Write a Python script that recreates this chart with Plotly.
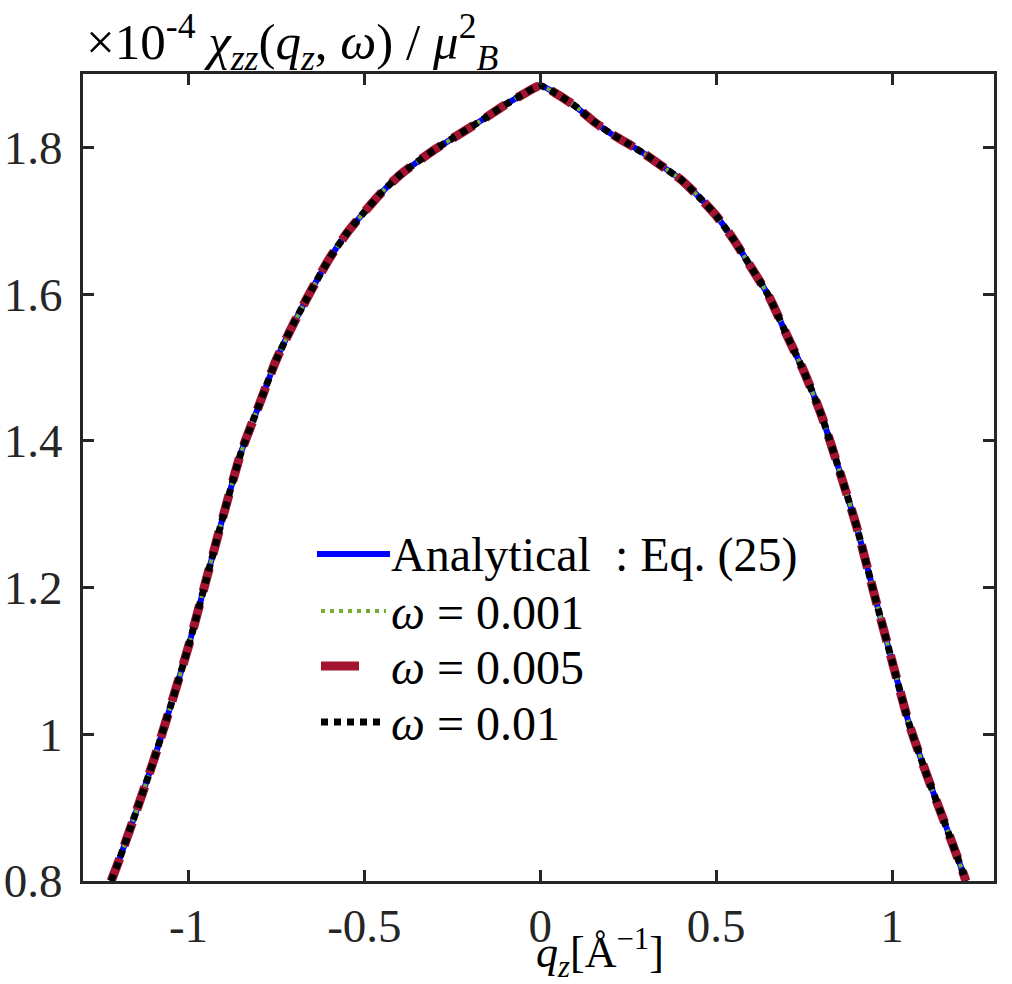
import plotly.graph_objects as go

# ---- data ----
q_left = [-1.22, -1.20, -1.15, -1.10, -1.05, -1.00, -0.95, -0.90, -0.85, -0.80,
          -0.75, -0.70, -0.65, -0.60, -0.55, -0.50, -0.45, -0.40, -0.35, -0.30,
          -0.25, -0.20, -0.15, -0.10, -0.05]
chi_left = [0.800, 0.825, 0.893, 0.963, 1.040, 1.120, 1.210, 1.300, 1.385, 1.448,
            1.511, 1.561, 1.606, 1.648, 1.683, 1.712, 1.739, 1.762, 1.780, 1.797,
            1.812, 1.827, 1.842, 1.858, 1.872]
q_peak = [0.0]
chi_peak = [1.884]
q_right = [0.05, 0.10, 0.15, 0.20, 0.25, 0.30, 0.35, 0.40, 0.45, 0.50,
           0.55, 0.60, 0.65, 0.70, 0.75, 0.80, 0.85, 0.90, 0.95, 1.00,
           1.05, 1.10, 1.15, 1.20, 1.21]
chi_right = [1.872, 1.856, 1.836, 1.819, 1.805, 1.790, 1.773, 1.756, 1.733, 1.707,
             1.674, 1.636, 1.597, 1.545, 1.494, 1.434, 1.360, 1.282, 1.190, 1.100,
             1.012, 0.943, 0.879, 0.814, 0.800]

q_z = q_left + q_peak + q_right
chi = chi_left + chi_peak + chi_right

series_names = ["Analytical : Eq. (25)", "ω = 0.001", "ω = 0.005", "ω = 0.01"]
series_labels = ["Analytical&nbsp;&nbsp;:&nbsp;Eq.&nbsp;(25)",
                 "<i>ω</i>&nbsp;=&nbsp;0.001", "<i>ω</i>&nbsp;=&nbsp;0.005",
                 "<i>ω</i>&nbsp;=&nbsp;0.01"]
series_colors = ["#0000ff", "#77ac30", "#a2142f", "#000000"]
series_widths = [6, 4, 9, 7]
series_dash = ["solid", "4px,5px", "24px,14px", "7px,6px"]

x_ticks = [-1, -0.5, 0, 0.5, 1]
x_ticklabels = ["-1", "-0.5", "0", "0.5", "1"]
y_ticks = [0.8, 1.0, 1.2, 1.4, 1.6, 1.8]
y_ticklabels = ["0.8", "1", "1.2", "1.4", "1.6", "1.8"]

FONT = "Liberation Serif"
AX = "#262626"
FS = 47

fig = go.Figure()
for name, c, w, d in zip(series_names, series_colors, series_widths, series_dash):
    fig.add_trace(go.Scatter(x=q_z, y=chi, mode="lines", name=name,
                             line=dict(color=c, width=w, dash=d, shape="spline", smoothing=0.6),
                             showlegend=False))

W, H = 1012, 984
L, R, T, B = 83, 18, 74, 103
pw, ph = W - L - R, H - T - B


def px(xp):
    return (xp - L) / pw


def py(yp):
    return (H - B - yp) / ph


# manual legend (glyph lengths like the reference)
rows_y = [554, 611, 666, 722]
glyph_x = [(317, 390), (321, 386), (321, 359), (321, 386)]
glyph_dash = ["solid", "4px,5px", "solid", "7px,6px"]
shapes = []
annotations = []
for i in range(4):
    x0, x1 = glyph_x[i]
    shapes.append(dict(type="line", xref="paper", yref="paper",
                       x0=px(x0), x1=px(x1), y0=py(rows_y[i]), y1=py(rows_y[i]),
                       line=dict(color=series_colors[i], width=series_widths[i],
                                 dash=glyph_dash[i])))
    annotations.append(dict(xref="paper", yref="paper", x=px(389), y=py(rows_y[i] + 1),
                            xanchor="left", yanchor="middle", showarrow=False,
                            text=series_labels[i],
                            font=dict(family=FONT, size=48, color="#000000")))

# y-axis title at top-left
annotations.append(dict(xref="paper", yref="paper", x=px(84), y=py(42),
                        xanchor="left", yanchor="middle", showarrow=False,
                        text="×10<sup>-4</sup>&nbsp;<i>χ<sub>zz</sub></i>(<i>q<sub>z</sub></i>,&nbsp;<i>ω</i>)&nbsp;/&nbsp;<i>μ</i><sup>2</sup><sub><i>B</i></sub>",
                        font=dict(family=FONT, size=51, color="#000000")))
# x-axis title
annotations.append(dict(xref="paper", yref="paper", x=px(600), y=py(953),
                        xanchor="center", yanchor="middle", showarrow=False,
                        text="<i>q<sub>z</sub></i>[Å<sup>−1</sup>]",
                        font=dict(family=FONT, size=44, color="#000000")))

axis_common = dict(showline=True, linewidth=3, linecolor=AX, mirror="ticks",
                   ticks="inside", ticklen=11, tickwidth=3, tickcolor=AX,
                   showgrid=False, zeroline=False, automargin=False,
                   tickfont=dict(family=FONT, size=FS, color="#262626"))

fig.update_layout(
    width=W, height=H,
    margin=dict(l=L, r=R, t=T, b=B, pad=0, autoexpand=False),
    plot_bgcolor="white", paper_bgcolor="white",
    xaxis=dict(range=[-1.30, 1.29], tickvals=x_ticks, ticktext=x_ticklabels,
               ticklabelstandoff=2, **axis_common),
    yaxis=dict(range=[0.8, 1.9], tickvals=y_ticks, ticktext=y_ticklabels,
               ticklabelstandoff=8, **axis_common),
    shapes=shapes, annotations=annotations,
    showlegend=False,
)

fig.write_html("out.html")
